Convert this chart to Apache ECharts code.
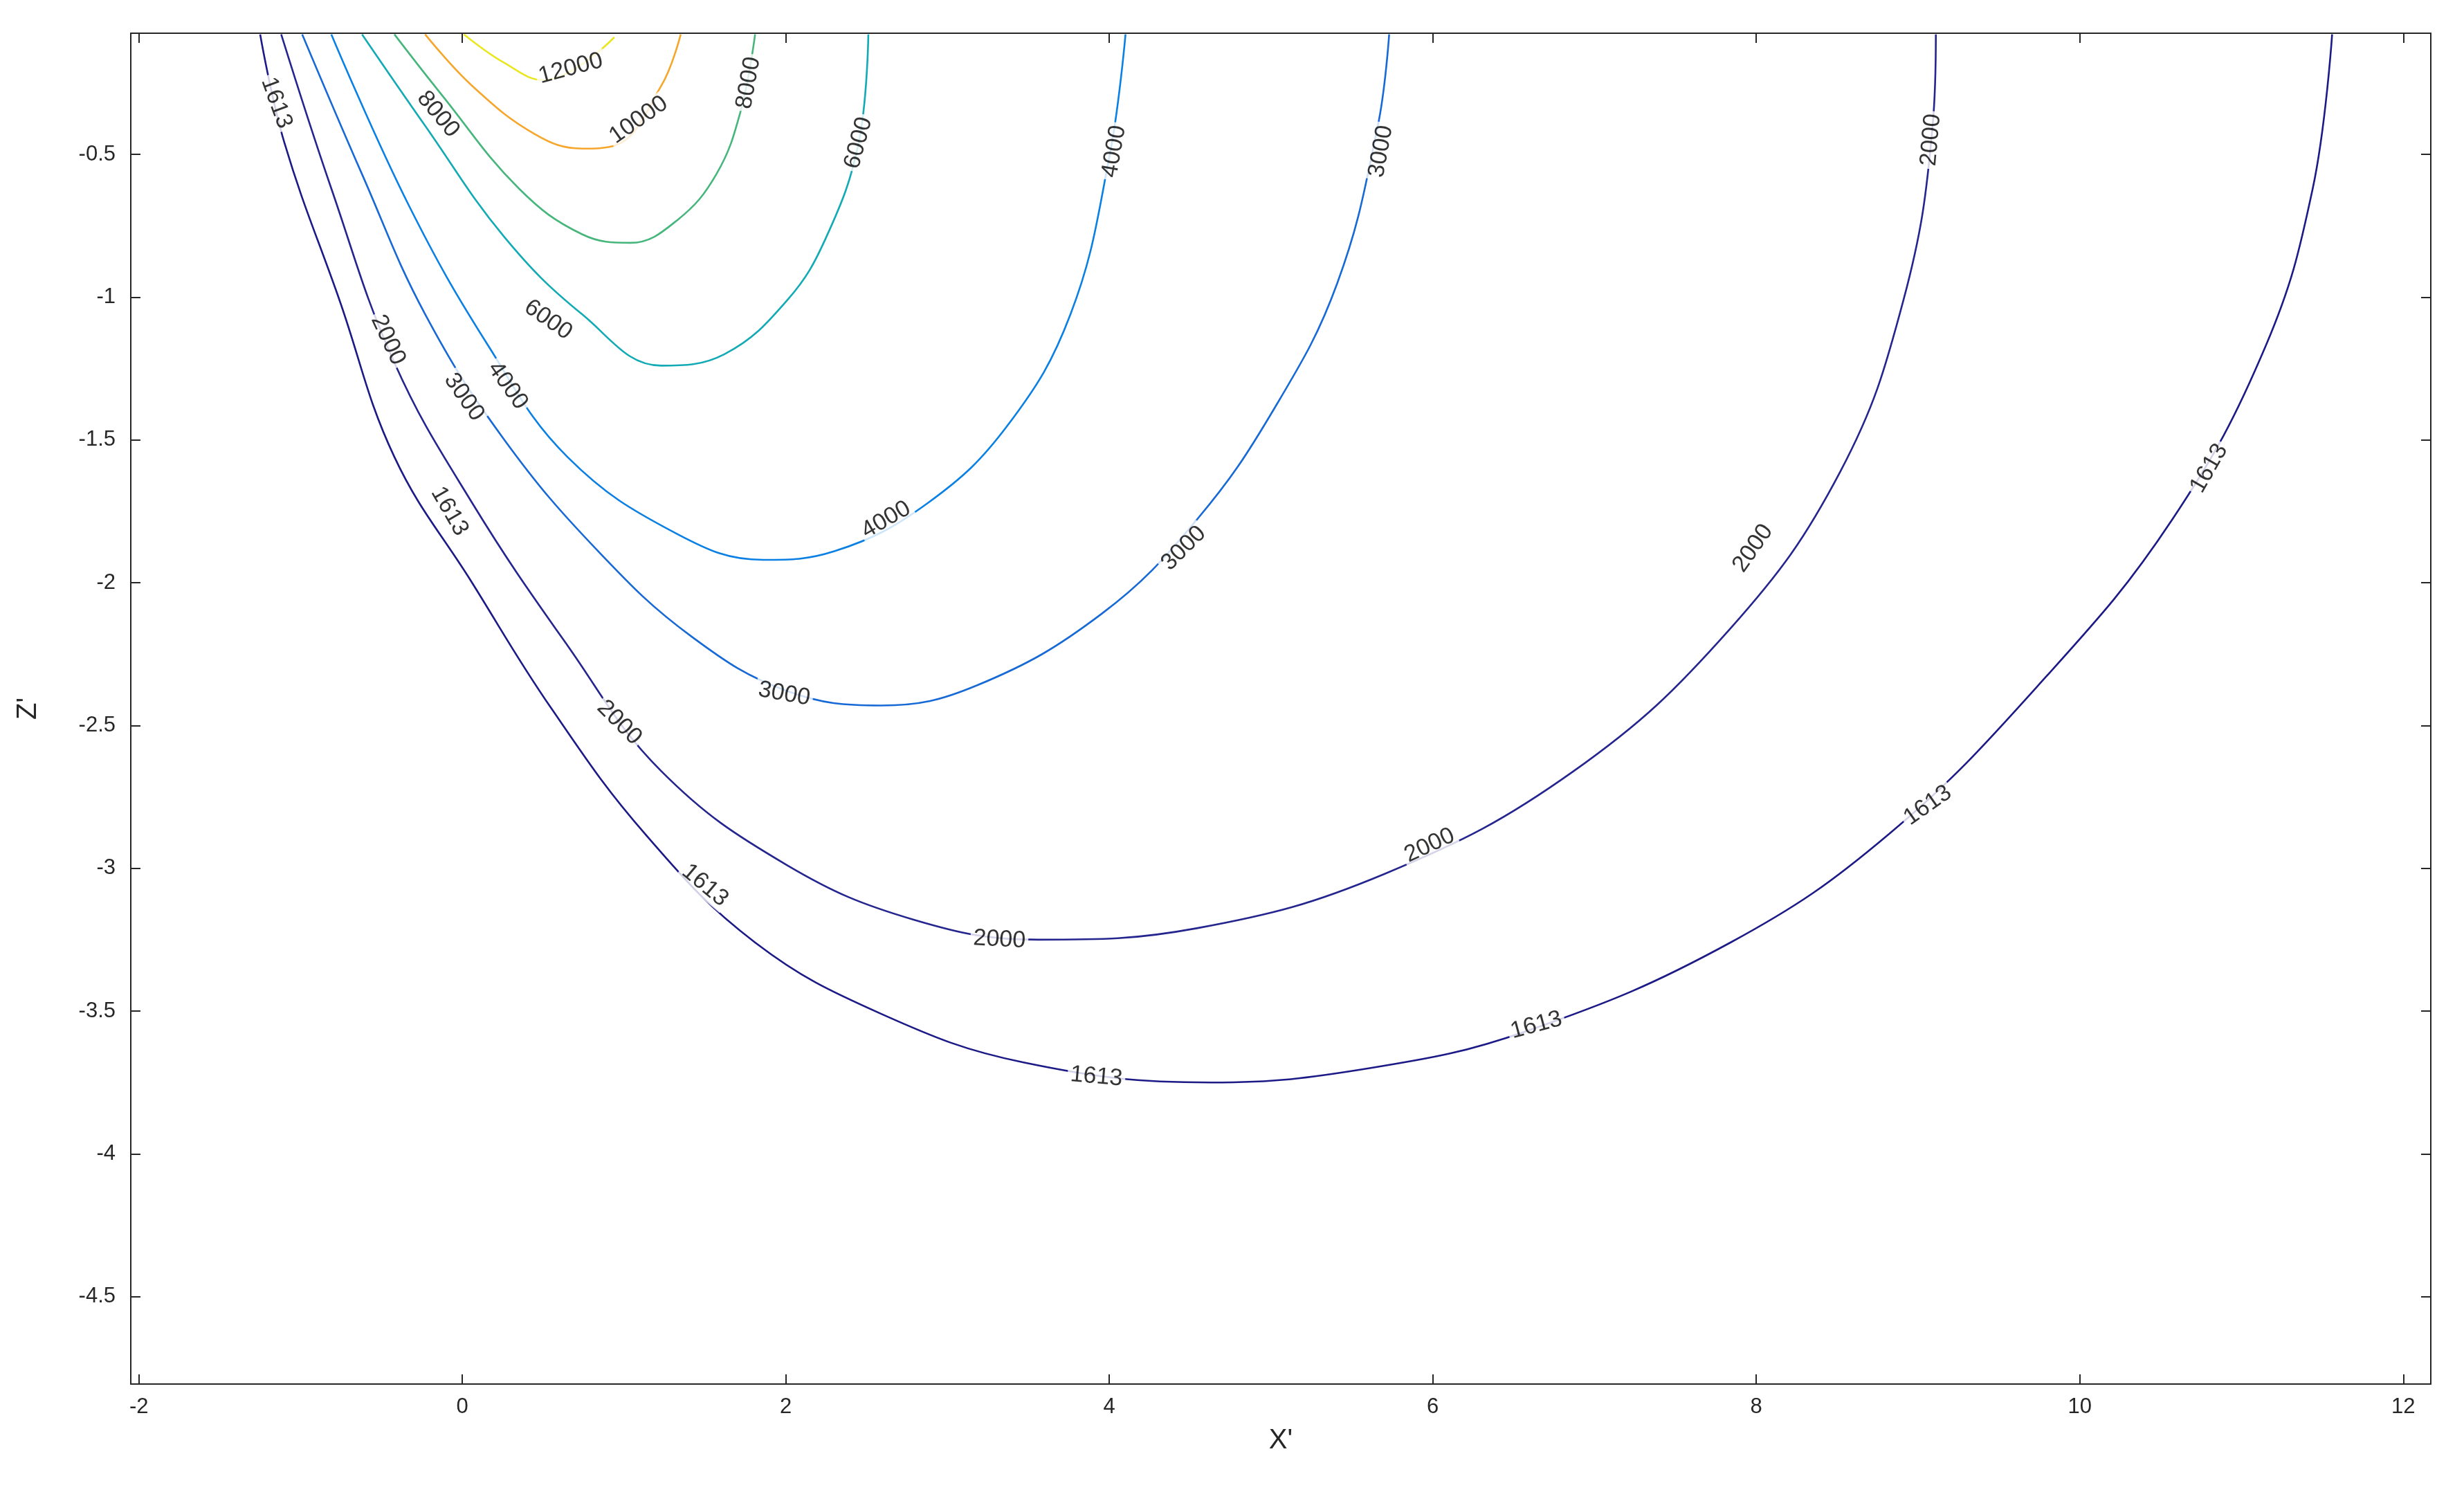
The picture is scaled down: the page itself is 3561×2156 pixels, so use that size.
<!DOCTYPE html>
<html lang="en">
<head>
<meta charset="UTF-8">
<title>Contours</title>
<script src="https://cdn.jsdelivr.net/npm/echarts@6/dist/echarts.min.js"></script>
<style>html,body{margin:0;padding:0;background:#fff}#main{width:3561px;height:2156px}</style>
</head>
<body>
<div id="main"></div>
<script>
// contour levels and their traced lines (x', z')
var levels = [1613, 2000, 3000, 4000, 6000, 8000, 10000, 12000];
var colors = ['#1c1a86', '#25258f', '#1769d6', '#0a80e4', '#12aab4', '#47b67c', '#f6a62b', '#e9e622'];
var c1613 = [[-1.25,-0.08],[-1.10,-0.46],[-0.76,-1.01],[-0.42,-1.56],[0.06,-2.0],[0.55,-2.44],[1.13,-2.88],[1.81,-3.26],[2.59,-3.51],[3.47,-3.68],[4.63,-3.75],[5.61,-3.70],[6.58,-3.57],[7.84,-3.26],[8.82,-2.88],[9.79,-2.33],[10.57,-1.78],[11.15,-1.17],[11.44,-0.62],[11.56,-0.08]];
var c2000 = [[-1.12,-0.08],[-0.81,-0.62],[-0.42,-1.23],[0.06,-1.72],[0.65,-2.22],[1.23,-2.66],[2.01,-2.99],[2.79,-3.18],[3.56,-3.25],[4.54,-3.21],[5.70,-3.02],[6.87,-2.66],[7.84,-2.16],[8.52,-1.61],[8.91,-1.01],[9.09,-0.40],[9.11,-0.08]];
var c3000 = [[-0.99,-0.08],[-0.62,-0.57],[-0.23,-1.06],[0.26,-1.50],[0.84,-1.89],[1.42,-2.19],[2.01,-2.38],[2.59,-2.43],[3.18,-2.36],[3.95,-2.11],[4.54,-1.78],[5.02,-1.39],[5.41,-0.95],[5.66,-0.40],[5.73,-0.08]];
var c4000 = [[-0.81,-0.08],[-0.33,-0.68],[0.16,-1.17],[0.65,-1.56],[1.33,-1.83],[1.86,-1.92],[2.30,-1.89],[2.88,-1.72],[3.37,-1.45],[3.76,-1.06],[4.00,-0.51],[4.10,-0.08]];
var c6000 = [[-0.62,-0.08],[-0.23,-0.40],[0.26,-0.79],[0.74,-1.06],[1.23,-1.24],[1.62,-1.20],[2.01,-1.01],[2.25,-0.79],[2.45,-0.46],[2.51,-0.08]];
var c8000 = [[-0.42,-0.08],[-0.13,-0.29],[0.35,-0.62],[0.74,-0.78],[1.04,-0.81],[1.33,-0.73],[1.57,-0.57],[1.72,-0.35],[1.81,-0.08]];
var c10000 = [[-0.23,-0.08],[0.06,-0.26],[0.45,-0.43],[0.74,-0.48],[0.94,-0.47],[1.23,-0.26],[1.35,-0.08]];
var c12000 = [[0.01,-0.08],[0.26,-0.18],[0.50,-0.24],[0.94,-0.09]];
var lines = [c1613, c2000, c3000, c4000, c6000, c8000, c10000, c12000];

// inline labels: [x', z', rotation]
var l1613 = [[-1.15,-0.32,-70],[-0.08,-1.75,-60],[1.50,-3.06,-40],[3.92,-3.73,-5],[6.64,-3.55,15],[9.06,-2.78,35],[10.80,-1.60,60]];
var l2000 = [[-0.46,-1.15,-65],[0.97,-2.49,-45],[3.32,-3.25,-3],[5.98,-2.92,25],[7.98,-1.88,55],[9.08,-0.45,85]];
var l3000 = [[0.01,-1.35,-55],[1.99,-2.39,-10],[4.46,-1.88,45],[5.68,-0.49,80]];
var l4000 = [[0.28,-1.31,-55],[2.62,-1.78,30],[4.03,-0.49,80]];
var l6000 = [[0.53,-1.08,-35],[2.45,-0.46,75]];
var l8000 = [[-0.15,-0.36,-50],[1.77,-0.25,80]];
var l10000 = [[1.09,-0.38,35]];
var l12000 = [[0.67,-0.20,15]];
var labels = [l1613, l2000, l3000, l4000, l6000, l8000, l10000, l12000];

var xTicks = [-2, 0, 2, 4, 6, 8, 10, 12];
var yTicks = [-4.5, -4, -3.5, -3, -2.5, -2, -1.5, -1, -0.5];

var chart = echarts.init(document.getElementById('main'));
var series = [];
levels.forEach(function (lv, i) {
    series.push({
        type: 'line', data: lines[i], smooth: 0.4, showSymbol: false, symbol: 'none',
        lineStyle: {color: colors[i], width: 2.6}, z: 2
    });
    series.push({
        type: 'scatter', symbolSize: 0, z: 5,
        data: labels[i].map(function (p) {
            return {value: [p[0], p[1]], label: {rotate: p[2]}};
        }),
        label: {
            show: true, position: 'inside', formatter: String(lv),
            color: '#000', fontSize: 34, fontFamily: 'Liberation Sans',
            backgroundColor: '#fff', padding: [0, 4]
        }
    });
});

var axisCommon = {
    axisLine: {show: true, onZero: false, lineStyle: {color: '#262626', width: 2}},
    splitLine: {show: false}
};
option = {
    animation: false,
    backgroundColor: '#fff',
    grid: {left: 189, right: 48, top: 48, bottom: 156},
    xAxis: [
        Object.assign({
            type: 'value', min: -2.05, max: 12.17, position: 'bottom',
            name: "X'", nameLocation: 'middle', nameGap: 62,
            nameTextStyle: {fontSize: 40, color: '#262626', fontFamily: 'Liberation Sans'},
            axisTick: {inside: true, length: 14, customValues: xTicks, lineStyle: {color: '#262626', width: 2}},
            axisLabel: {customValues: xTicks, fontSize: 31, color: '#262626', fontFamily: 'Liberation Sans', margin: 18}
        }, axisCommon),
        Object.assign({
            type: 'value', min: -2.05, max: 12.17, position: 'top',
            axisTick: {inside: true, length: 14, customValues: xTicks, lineStyle: {color: '#262626', width: 2}},
            axisLabel: {show: false}
        }, axisCommon)
    ],
    yAxis: [
        Object.assign({
            type: 'value', min: -4.806, max: -0.076, position: 'left',
            name: "Z'", nameLocation: 'middle', nameGap: 128, nameRotate: 90,
            nameTextStyle: {fontSize: 40, color: '#262626', fontFamily: 'Liberation Sans'},
            axisTick: {inside: true, length: 14, customValues: yTicks, lineStyle: {color: '#262626', width: 2}},
            axisLabel: {customValues: yTicks, fontSize: 31, color: '#262626', fontFamily: 'Liberation Sans', margin: 22}
        }, axisCommon),
        Object.assign({
            type: 'value', min: -4.806, max: -0.076, position: 'right',
            axisTick: {inside: true, length: 14, customValues: yTicks, lineStyle: {color: '#262626', width: 2}},
            axisLabel: {show: false}
        }, axisCommon)
    ],
    series: series
};
chart.setOption(option);
</script>
</body>
</html>
